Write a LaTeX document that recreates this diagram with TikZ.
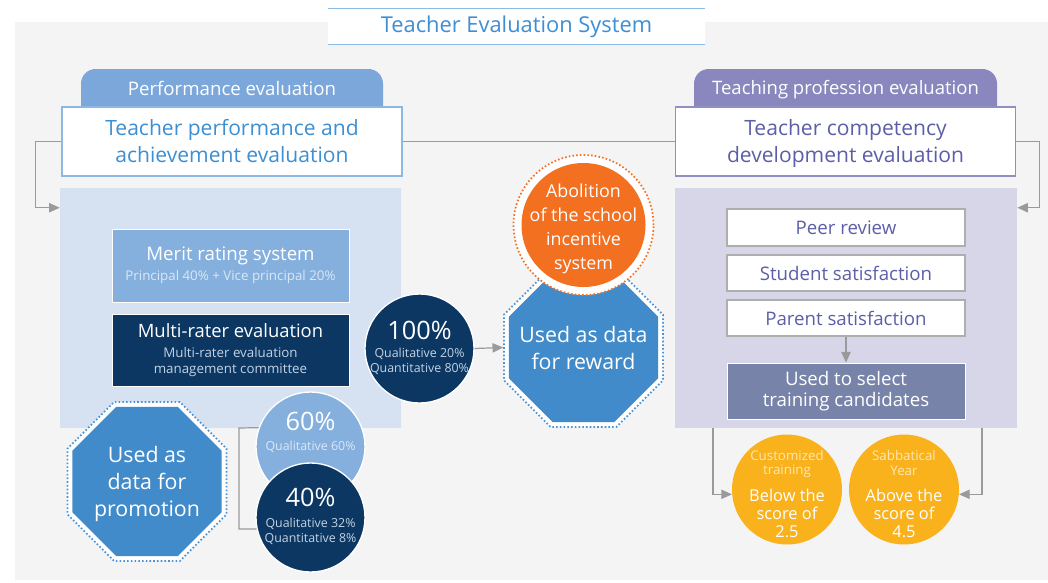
\documentclass[tikz,border=0pt]{standalone}
\usepackage{fontspec}
\setmainfont{Open Sans}
\usetikzlibrary{arrows.meta,shapes.geometric}
\definecolor{bggray}{HTML}{F4F4F4}
\definecolor{titleblue}{HTML}{3D8FD4}
\definecolor{titleline}{HTML}{8CBBE6}
\definecolor{tabblue}{HTML}{7BA7DA}
\definecolor{hdrblue}{HTML}{8DB8E3}
\definecolor{panelblue}{HTML}{D6E2F2}
\definecolor{meritblue}{HTML}{85B0DE}
\definecolor{navy}{HTML}{0B3762}
\definecolor{octblue}{HTML}{428BCA}
\definecolor{dotblue}{HTML}{4A93D6}
\definecolor{orangeA}{HTML}{F37021}
\definecolor{tabpurple}{HTML}{8987BD}
\definecolor{hdrpurple}{HTML}{8F8FC4}
\definecolor{txtpurple}{HTML}{5C5FA8}
\definecolor{panelpurple}{HTML}{D7D6E9}
\definecolor{usegray}{HTML}{7783A8}
\definecolor{gold}{HTML}{F9B11C}
\definecolor{goldtxt}{HTML}{FDE8B0}
\definecolor{linegray}{HTML}{9A9A9A}
\definecolor{subwhite}{HTML}{DCE7F4}
\definecolor{subnavy}{HTML}{C3D2E4}
\newcommand\fsz[2]{\fontsize{#1pt}{#2pt}\selectfont}
\begin{document}
\begin{tikzpicture}[x=0.75pt,y=-0.75pt,
  txt/.style={inner sep=0pt,align=center},
  conn/.style={draw=linegray,line width=0.9pt,-{Triangle[length=8pt,width=7pt]}},
  plain/.style={draw=linegray,line width=0.9pt},
  hdr/.style={fill=white,line width=0.9pt,minimum width=255pt,minimum height=51.75pt,inner sep=0pt,align=center,text depth=1pt},
  panel/.style={inner sep=0pt,minimum height=180pt},
  octo/.style={regular polygon,regular polygon sides=8,inner sep=0pt,minimum size=121pt,fill=octblue},
  octring/.style={regular polygon,regular polygon sides=8,inner sep=0pt,minimum size=129pt,fill=white,draw=dotblue,line width=1.3pt,dash pattern=on 1.2pt off 1.6pt},
  bigc/.style={circle,inner sep=0pt,minimum size=81.75pt,draw=white,line width=1pt},
  rbox/.style={fill=white,draw=linegray!80,line width=0.8pt,minimum width=178.5pt,minimum height=27pt,inner sep=0pt,text=txtpurple,font=\fsz{14}{16}},
  goldc/.style={circle,inner sep=0pt,minimum size=82.5pt,fill=gold}
]
\useasboundingbox (0,0) rectangle (1048,582);
% background
\fill[bggray] (15,22) rectangle (1048,580);
% title
\node[fill=white,minimum width=282.75pt,minimum height=26.25pt,inner sep=0pt,text=titleblue,font=\fsz{16.4}{19}] (title) at (516.5,26.5) {Teacher Evaluation System};
\draw[titleline,line width=0.9pt] (title.north west) -- (title.north east);
\draw[titleline,line width=0.9pt] (title.south west) -- (title.south east);

% tabs
\fill[tabblue,rounded corners=11pt] (81,120) -- (81,69) -- (383,69) -- (383,120) -- cycle;
\node[txt,text=white,font=\fsz{14}{16}] (tabL) at (232,88) {Performance evaluation};
\fill[tabpurple,rounded corners=11pt] (694,120) -- (694,69) -- (997,69) -- (997,120) -- cycle;
\node[txt,text=white,font=\fsz{13.9}{16}] (tabR) at (845.5,90) {Teaching profession evaluation};

% headers
\node[hdr,draw=hdrblue,text=titleblue,font=\fsz{15.8}{20}] (hL) at (232,141.5) {Teacher performance and\\achievement evaluation};
\node[hdr,draw=hdrpurple,text=txtpurple,font=\fsz{15.8}{20}] (hR) at (845.5,141.5) {Teacher competency\\development evaluation};

% panels
\node[panel,fill=panelblue,minimum width=255.75pt] (pL) at (230.5,308) {};
\node[panel,fill=panelpurple,minimum width=256.5pt] (pR) at (846,308) {};

% header connectors
\draw[plain] (hL.east) -- (hR.west);
\draw[conn] (hL.west) -- ++(-26,0) |- ([yshift=-15pt]pL.north west);
\draw[conn] (hR.east) -- ++(23,0) |- ([yshift=-15pt]pR.north east);

% merit and multi-rater boxes
\node[fill=meritblue,draw=white,line width=0.6pt,minimum width=177.75pt,minimum height=54.75pt,inner sep=0pt,align=center,text=white] (mB) at (230.5,265.5)
  {\fsz{14}{16}Merit rating system\\[3pt]\fsz{10}{12}\color{subwhite}Principal 40\% + Vice principal 20\%};
\node[fill=navy,draw=white,line width=0.6pt,minimum width=177.75pt,minimum height=54pt,inner sep=0pt,align=center,text=white] (mM) at (230.5,350)
  {\fsz{13.8}{16}Multi-rater evaluation\\[2.5pt]\fsz{10}{12.8}\color{subnavy}Multi-rater evaluation\\\color{subnavy}management committee};

% reward octagon and orange circle
\node[octring] (oRo) at (583.5,347.5) {};
\node[octo] (oR) at (583.5,347.5) {};
\node[txt,text=white,font=\fsz{16}{20}] (oRt) at (583.5,348) {Used as data\\for reward};
\node[circle,inner sep=0pt,minimum size=105pt,fill=white,draw=orangeA,line width=1.3pt,dash pattern=on 1.2pt off 1.6pt] (cAo) at (583.5,225) {};
\node[circle,inner sep=0pt,minimum size=93pt,fill=orangeA] (cA) at (583.5,225) {};
\node[txt,text=white,font=\fsz{13.4}{18}] (cAt) at (583.5,229) {Abolition\\of the school\\incentive\\system};

% 100% circle
\node[bigc,fill=navy] (c100) at (419.5,348.5) {};
\node[txt,text=white,font=\fsz{19}{22}] (c100a) at (419.5,330) {100\%};
\node[txt,text=subnavy,font=\fsz{9.3}{11.2}] (c100b) at (419.5,361) {Qualitative 20\%\\Quantitative 80\%};
\draw[conn] (c100.east) -- (oRo.west);

% promotion octagon
\node[octring] (oPo) at (147,481.5) {};
\node[octo] (oP) at (147,481.5) {};
\node[txt,text=white,font=\fsz{16}{20}] (oPt) at (147,484) {Used as\\data for\\promotion};

% 60% and 40% circles
\node[bigc,fill=meritblue] (c60) at (310.5,446.5) {};
\node[txt,text=white,font=\fsz{19}{22}] (c60a) at (310.5,421) {60\%};
\node[txt,text=subwhite,font=\fsz{9.3}{11}] (c60b) at (310.5,447) {Qualitative 60\%};
\node[bigc,fill=navy] (c40) at (310.5,517.5) {};
\node[txt,text=white,font=\fsz{19}{22}] (c40a) at (310.5,497) {40\%};
\node[txt,text=subnavy,font=\fsz{9.3}{11.5}] (c40b) at (310.5,531) {Qualitative 32\%\\Quantitative 8\%};
\draw[plain] (c60.160) -- (239,428) -- (239,529) -- (c40.192);

% right boxes
\node[rbox,minimum height=27.75pt] (bPeer) at (846,227.5) {Peer review};
\node[rbox] (bStu) at (846,273) {Student satisfaction};
\node[rbox] (bPar) at (846,318) {Parent satisfaction};
\node[fill=usegray,draw=white,line width=0.6pt,minimum width=178.5pt,minimum height=42pt,inner sep=0pt,align=center,text=white,font=\fsz{14}{16}] (bUse) at (846,391) {Used to select\\training candidates};
\draw[conn] (bPar.south) -- (bUse.north);

% gold circles
\node[goldc] (gC) at (787,489.5) {};
\node[txt,text=goldtxt,font=\fsz{10}{10.8}] (gCa) at (787,464) {Customized\\training};
\node[txt,text=white,font=\fsz{12.3}{13.5}] (gCb) at (787,513) {Below the\\score of\\2.5};
\node[goldc] (gS) at (904,489.5) {};
\node[txt,text=goldtxt,font=\fsz{10}{10.8}] (gSa) at (904,463) {Sabbatical\\Year};
\node[txt,text=white,font=\fsz{12.3}{13.5}] (gSb) at (904,513) {Above the\\score of\\4.5};
\draw[conn] ([xshift=-99.75pt]pR.south) |- (gC.185);
\draw[conn] ([xshift=102pt]pR.south) |- (gS.355);
\end{tikzpicture}
\end{document}
